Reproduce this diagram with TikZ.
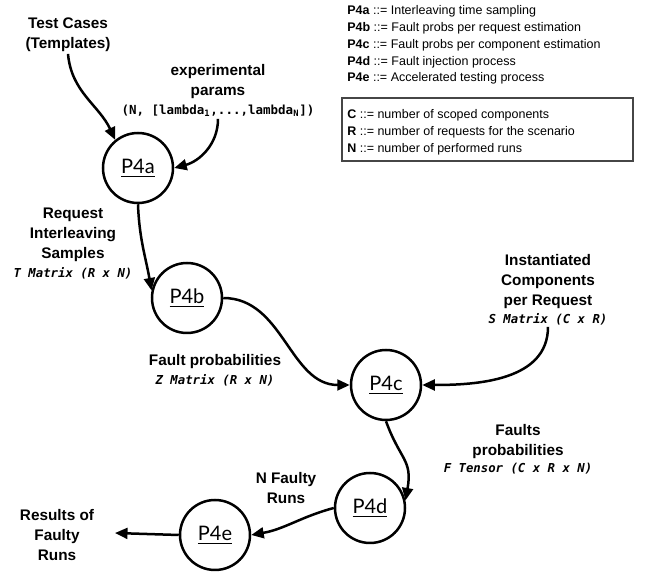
\documentclass[tikz,border=0pt]{standalone}
\usepackage{fontspec}
\setmainfont{Liberation Sans}
\newfontfamily\monofont{DejaVu Sans Mono}
\newfontfamily\procfont{Lato}
\usetikzlibrary{arrows.meta}
\definecolor{boxframe}{RGB}{70, 70, 70}
\tikzset{
  proc/.style={circle, draw, line width=1.5pt, minimum size=42pt, inner sep=0pt,
    font=\procfont\fontsize{12}{14}\selectfont},
  lbl/.style={align=center, inner sep=1pt, font=\bfseries\fontsize{9.2}{12}\selectfont},
  mtx/.style={inner sep=1pt, font=\monofont\bfseries\itshape\fontsize{7.4}{9}\selectfont},
  mtxup/.style={inner sep=1pt, font=\monofont\bfseries\fontsize{7.5}{9}\selectfont},
  legend/.style={anchor=west, inner sep=0pt, font=\fontsize{7.5}{10}\selectfont},
  flow/.style={-{Triangle[length=7.5pt, width=6.5pt]}, line width=1.5pt},
}

\begin{document}
\begin{tikzpicture}[x=0.6pt, y=-0.6pt]
  \useasboundingbox (0,0) rectangle (645,575);

  % ---------- Processes ----------
  \node[proc] (p4a) at (138,168) {\underline{P4a}};
  \node[proc] (p4b) at (187,298) {\underline{P4b}};
  \node[proc] (p4c) at (386,385) {\underline{P4c}};
  \node[proc] (p4d) at (370,508) {\underline{P4d}};
  \node[proc] (p4e) at (215,535) {\underline{P4e}};

  % ---------- Inputs and outputs ----------
  \node[lbl] (tests) at (68,35) {Test Cases\\(Templates)};
  \node[lbl] (params) at (218,82) {experimental\\params};
  \node[mtxup] (paramsv) at (218,111) {(N, [lambda\textsubscript{1},...,lambda\textsubscript{N}])};
  \node[lbl] (comps) at (548,282) {Instantiated\\Components\\per Request};
  \node[mtx] (compsv) at (548,319) {S Matrix (C x R)};
  \node[lbl] (results) at (57,535) {Results of\\Faulty\\Runs};
  \coordinate (resin) at (115,533);

  % ---------- Flow labels ----------
  \node[lbl] (samples) at (73,235) {Request\\Interleaving\\Samples};
  \node[mtx] (samplesv) at (73,273) {T Matrix (R x N)};
  \node[lbl] (zprob) at (215,362) {Fault probabilities};
  \node[mtx] (zprobv) at (215,380) {Z Matrix (R x N)};
  \node[lbl] (fprob) at (518,442) {Faults\\probabilities};
  \node[mtx] (fprobv) at (518,469) {F Tensor (C x R x N)};
  \node[lbl] (runs) at (286,488) {N Faulty\\Runs};

  % ---------- Flows ----------
  \draw[flow] (tests.south) to[out=-85, in=115] (p4a.129);
  \draw[flow] (paramsv.south) to[out=-90, in=15] (p4a.east);
  \draw[flow] (p4a.south) to[out=-88, in=100] (p4b.168);
  \draw[flow] (p4b.east) to[out=0, in=180] (p4c.west);
  \draw[flow] (compsv.south) to[out=-90, in=0] (p4c.east);
  \draw[flow] (p4c.south) to[out=-70, in=80, looseness=1.3] (p4d.12);
  \draw[flow] (p4d.west) to[out=195, in=10] (p4e.east);
  \draw[flow] (p4e.west) -- (resin);

  % ---------- Legend ----------
  \node[legend] (la) at (347,11) {\textbf{P4a} ::= Interleaving time sampling};
  \node[legend] (lb) at (347,28) {\textbf{P4b} ::= Fault probs per request estimation};
  \node[legend] (lc) at (347,45) {\textbf{P4c} ::= Fault probs per component estimation};
  \node[legend] (ld) at (347,62) {\textbf{P4d} ::= Fault injection process};
  \node[legend] (le) at (347,78) {\textbf{P4e} ::= Accelerated testing process};

  \draw[boxframe, line width=1pt] (342,98) rectangle (633,161);
  \node[legend] (vc) at (347,115) {\textbf{C} ::= number of scoped components};
  \node[legend] (vr) at (347,132) {\textbf{R} ::= number of requests for the scenario};
  \node[legend] (vn) at (347,149) {\textbf{N} ::= number of performed runs};

\end{tikzpicture}
\end{document}
